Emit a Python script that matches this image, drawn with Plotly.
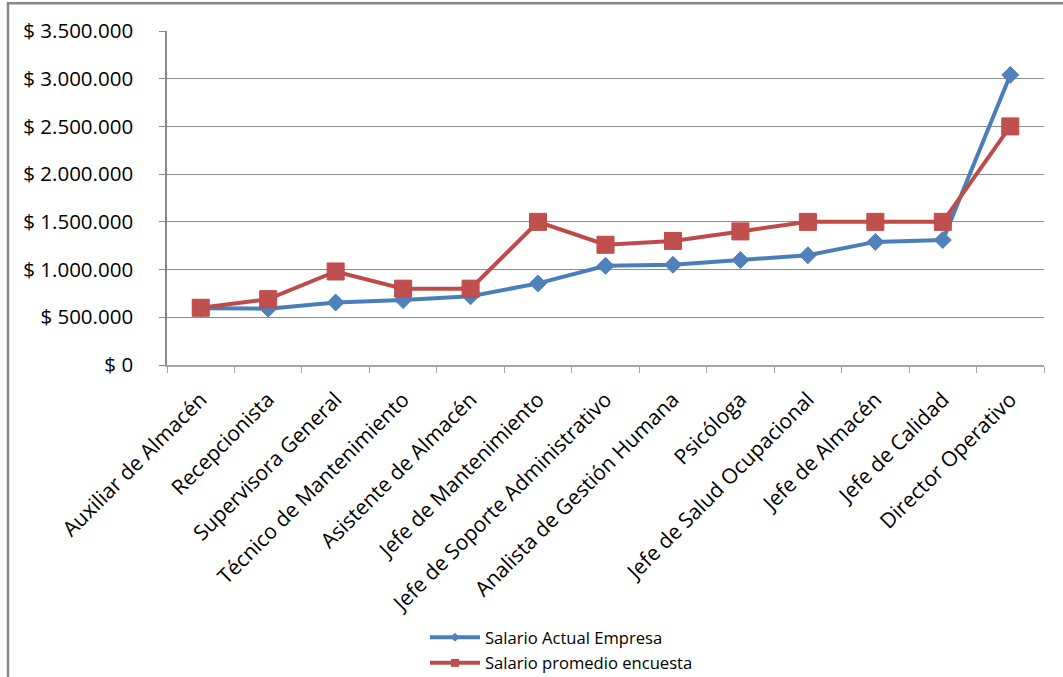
import plotly.graph_objects as go

# Cargos evaluados
cargos = [
    "Auxiliar de Almacén", "Recepcionista", "Supervisora General",
    "Técnico de Mantenimiento", "Asistente de Almacén", "Jefe de Mantenimiento",
    "Jefe de Soporte Administrativo", "Analista de Gestión Humana", "Psicóloga",
    "Jefe de Salud Ocupacional", "Jefe de Almacén", "Jefe de Calidad",
    "Director Operativo",
]

# Salarios (COP)
salario_actual = [
    595000, 590000, 655000, 680000, 720000, 855000, 1040000,
    1050000, 1100000, 1150000, 1290000, 1310000, 3040000,
]
salario_encuesta = [
    600000, 690000, 980000, 800000, 800000, 1500000, 1260000,
    1300000, 1400000, 1500000, 1500000, 1500000, 2500000,
]

# Eje Y
y_vals = [0, 500000, 1000000, 1500000, 2000000, 2500000, 3000000, 3500000]
y_text = ["$ 0", "$ 500.000", "$ 1.000.000", "$ 1.500.000", "$ 2.000.000",
          "$ 2.500.000", "$ 3.000.000", "$ 3.500.000"]

FONT = "Open Sans"
W, H = 1063, 677
ML, MR, MT, MB = 167, 19, 31, 312
PW, PH = W - ML - MR, H - MT - MB

BLUE_LINE, BLUE_FILL = "#4A7EBB", "#4F81BD"
RED_LINE, RED_FILL = "#BE4B48", "#C0504D"

fig = go.Figure()
fig.add_trace(go.Scatter(
    x=cargos, y=salario_actual, name="Salario Actual Empresa",
    mode="lines+markers", showlegend=False,
    line=dict(color=BLUE_LINE, width=4),
    marker=dict(symbol="diamond", size=13, color=BLUE_FILL,
                line=dict(color=BLUE_LINE, width=1)),
))
fig.add_trace(go.Scatter(
    x=cargos, y=salario_encuesta, name="Salario promedio encuesta",
    mode="lines+markers", showlegend=False,
    line=dict(color=RED_LINE, width=4),
    marker=dict(symbol="square", size=17, color=RED_FILL,
                line=dict(color=RED_LINE, width=1)),
))

# Legend entries with the small symbols of the legend key
fig.add_trace(go.Scatter(
    x=[None], y=[None], name="Salario Actual Empresa", mode="lines+markers",
    legendgroup="a", line=dict(color=BLUE_LINE, width=4),
    marker=dict(symbol="diamond", size=7, color=BLUE_FILL),
))
fig.add_trace(go.Scatter(
    x=[None], y=[None], name="Salario promedio encuesta", mode="lines+markers",
    legendgroup="b", line=dict(color=RED_LINE, width=4),
    marker=dict(symbol="square", size=8, color=RED_FILL),
))

# Chart frame
fig.add_shape(type="rect", xref="paper", yref="paper",
              x0=(8 - ML) / PW, x1=(W + 10 - ML) / PW,
              y0=(MT + PH - (H + 10)) / PH, y1=1 + (MT - 3.3) / PH,
              line=dict(color="#868686", width=2.5), layer="below")

fig.update_layout(
    width=W, height=H, autosize=False,
    margin=dict(l=ML, r=MR, t=MT, b=MB, autoexpand=False),
    paper_bgcolor="white", plot_bgcolor="white",
    font=dict(family=FONT, color="#000000", size=20),
    showlegend=True,
    legend=dict(
        x=(425 - ML) / PW, y=-(620 - MT - PH) / PH, xanchor="left", yanchor="top",
        orientation="v", font=dict(size=16.6, family=FONT, color="#000000"),
        bgcolor="rgba(0,0,0,0)", tracegroupgap=1, itemwidth=50,
    ),
    xaxis=dict(
        type="category", range=[-0.5, len(cargos) - 0.5], automargin=False,
        showline=True, linecolor="#A6A6A6", linewidth=2,
        ticks="outside", ticklen=6, tickcolor="#A6A6A6", tickwidth=1,
        tickson="boundaries", tickangle=-45, showgrid=False,
        tickfont=dict(size=21, family=FONT), ticklabelstandoff=12,
    ),
    yaxis=dict(
        range=[0, 3500000], tickvals=y_vals, ticktext=y_text, automargin=False,
        showline=True, linecolor="#868686", linewidth=1.5,
        showgrid=True, gridcolor="#8C8C8C", gridwidth=1,
        ticks="outside", ticklen=6, tickcolor="#868686",
        tickfont=dict(size=20.5, family=FONT), ticklabelstandoff=22,
        zeroline=False,
    ),
)

fig.write_html("out.html")
